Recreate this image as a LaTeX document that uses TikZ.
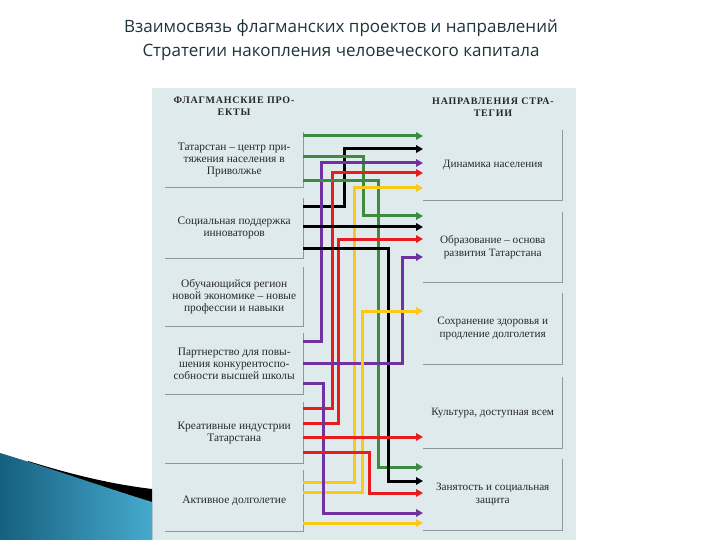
\documentclass[tikz,border=0pt]{standalone}
\usepackage{fontspec}
\setmainfont{Liberation Serif}
\newfontfamily\titlefont{Open Sans}
\usetikzlibrary{arrows.meta}
\definecolor{panelc}{RGB}{222,234,236}
\definecolor{shadowc}{RGB}{140,152,155}
\definecolor{txtc}{RGB}{40,40,40}
\definecolor{titlec}{RGB}{30,52,58}
\definecolor{cgreen}{RGB}{62,138,62}
\definecolor{cpurple}{RGB}{112,50,160}
\definecolor{cred}{RGB}{232,28,28}
\definecolor{cyellow}{RGB}{250,200,22}
\definecolor{blueA}{RGB}{22,96,128}
\definecolor{blueB}{RGB}{70,170,205}
\begin{document}
\begin{tikzpicture}[x=1pt,y=-1pt,
  lbox/.style={anchor=north west, inner sep=0pt, minimum width=138pt, align=center, text=txtc, font=\fontsize{11.4}{12}\selectfont},
  rbox/.style={anchor=north west, inner sep=0pt, minimum width=139pt, align=center, text=txtc, font=\fontsize{11.2}{13}\selectfont},
  shadowline/.style={draw=shadowc, line width=1.4pt},
  hdr/.style={text=txtc, align=center, font=\fontsize{10}{11.5}\selectfont\bfseries\addfontfeature{LetterSpace=8}},
  conn/.style={line width=3pt, -{Triangle[length=7pt,width=7.5pt]}},
]
\useasboundingbox (0,0) rectangle (720,540);
\fill[white] (0,0) rectangle (720,540);
% panel
\fill[panelc] (152,88) rectangle (576,540);
% swoosh
\fill[black] (28,461) .. controls (70,474) and (110,484) .. (152,489) -- (152,540) -- (28,540) -- cycle;
\shade[left color=blueA, right color=blueB] (0,453) .. controls (50,468) and (100,486) .. (152,502) -- (152,540) -- (0,540) -- cycle;
% title
\node[font=\titlefont\fontsize{17}{24.5}\selectfont, text=titlec, align=center] (title) at (341,40) {Взаимосвязь флагманских проектов и направлений\\Стратегии накопления человеческого капитала};
% headers
\node[hdr] (h1) at (234,106) {ФЛАГМАНСКИЕ ПРО-\\ЕКТЫ};
\node[hdr] (h2) at (493,107) {НАПРАВЛЕНИЯ СТРА-\\ТЕГИИ};
% left boxes
\node[lbox, minimum height=55pt] (L1) at (165,132) {Татарстан – центр при-\\тяжения населения в\\Приволжье};
\node[lbox, minimum height=60pt] (L2) at (165,198) {Социальная поддержка\\инноваторов};
\node[lbox, minimum height=59pt] (L3) at (165,267) {Обучающийся регион\\новой экономике – новые\\профессии и навыки};
\node[lbox, minimum height=61pt] (L4) at (165,333) {Партнерство для повы-\\шения конкурентоспо-\\собности высшей школы};
\node[lbox, minimum height=61pt] (L5) at (165,402) {Креативные индустрии\\Татарстана};
\node[lbox, minimum height=61pt] (L6) at (165,470) {Активное долголетие};
% right boxes
\node[rbox, minimum height=70pt] (R1) at (423,130) {Динамика населения};
\node[rbox, minimum height=70pt] (R2) at (423,212) {Образование – основа\\развития Татарстана};
\node[rbox, minimum height=71pt] (R3) at (423,293) {Сохранение здоровья и\\продление долголетия};
\node[rbox, minimum height=71pt] (R4) at (423,377) {Культура, доступная всем};
\node[rbox, minimum height=71pt] (R5) at (423,459) {Занятость и социальная\\защита};
\foreach \b in {L1,L2,L3,L4,L5,L6,R1,R2,R3,R4,R5}{
  \draw[shadowline] (\b.north east) -- (\b.south east) -- (\b.south west);
}
% connectors
\draw[conn,cgreen] (L1.east |- 0,136) -- (R1.west |- 0,136);
\draw[conn,black] (L2.east |- 0,207) -| (344,149) -- (R1.west |- 0,149);
\draw[conn,cgreen] (L1.east |- 0,157) -| (363,216) -- (R2.west |- 0,216);
\draw[conn,cpurple] (L4.east |- 0,341) -| (321,163) -- (R1.west |- 0,163);
\draw[conn,cred] (L5.east |- 0,408) -| (332,173) -- (R1.west |- 0,173);
\draw[conn,cgreen] (L1.east |- 0,181) -| (378,467) -- (R5.west |- 0,467);
\draw[conn,cyellow] (L6.east |- 0,482) -| (354,188) -- (R1.west |- 0,188);
\draw[conn,black] (L2.east |- 0,227) -- (R2.west |- 0,227);
\draw[conn,cred] (L5.east |- 0,423) -| (338,239) -- (R2.west |- 0,239);
\draw[conn,black] (L2.east |- 0,248) -| (388,481) -- (R5.west |- 0,481);
\draw[conn,cpurple] (L4.east |- 0,363) -| (402,257) -- (R2.west |- 0,257);
\draw[conn,cyellow] (L6.east |- 0,492) -| (362,311) -- (R3.west |- 0,311);
\draw[conn,cpurple] (L4.east |- 0,383) -| (323,513) -- (R5.west |- 0,513);
\draw[conn,cred] (L5.east |- 0,437) -- (R4.west |- 0,437);
\draw[conn,cred] (L5.east |- 0,452) -| (369,493) -- (R5.west |- 0,493);
\draw[conn,cyellow] (L6.east |- 0,523) -- (R5.west |- 0,523);
\end{tikzpicture}
\end{document}
